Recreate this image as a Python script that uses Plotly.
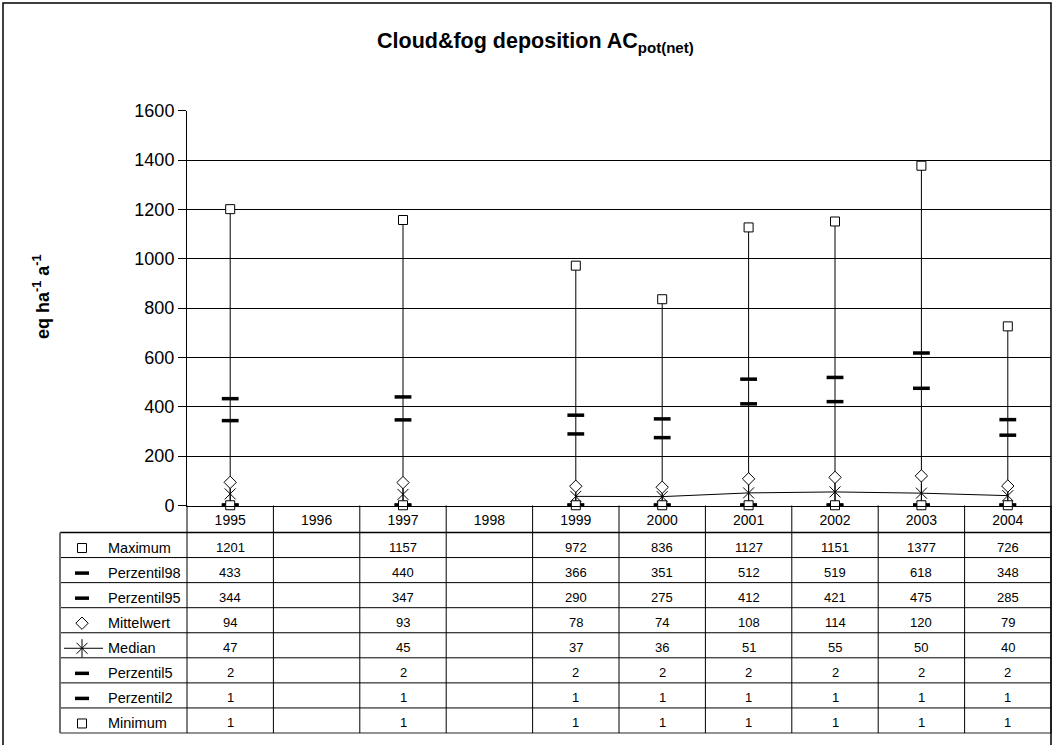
import plotly.graph_objects as go

# ---------------- data ----------------
years = ["1995", "1996", "1997", "1998", "1999", "2000", "2001", "2002", "2003", "2004"]
maximum = [1201, None, 1157, None, 972, 836, 1127, 1151, 1377, 726]
perzentil98 = [433, None, 440, None, 366, 351, 512, 519, 618, 348]
perzentil95 = [344, None, 347, None, 290, 275, 412, 421, 475, 285]
mittelwert = [94, None, 93, None, 78, 74, 108, 114, 120, 79]
median = [47, None, 45, None, 37, 36, 51, 55, 50, 40]
perzentil5 = [2, None, 2, None, 2, 2, 2, 2, 2, 2]
perzentil2 = [1, None, 1, None, 1, 1, 1, 1, 1, 1]
minimum = [1, None, 1, None, 1, 1, 1, 1, 1, 1]
series_names = ["Maximum", "Perzentil98", "Perzentil95", "Mittelwert",
                "Median", "Perzentil5", "Perzentil2", "Minimum"]
y_ticks = [0, 200, 400, 600, 800, 1000, 1200, 1400, 1600]
title_text = "Cloud&fog deposition AC<sub>pot(net)</sub>"
y_title = "eq ha<sup>-1</sup> a<sup>-1</sup>"

series_values = [maximum, perzentil98, perzentil95, mittelwert,
                 median, perzentil5, perzentil2, minimum]

# ---------------- layout geometry (pixels) ----------------
W, H = 1054, 745
X0, X1 = 187, 1051          # plot area left / right
Y_TOP, Y_BOT = 110.7, 505.5  # plot area top / bottom
T_TOP, T_BOT = 532.5, 733    # data table top / bottom
T_LEFT = 60
KEY_X, LABEL_X = 82, 106
FONT = "Liberation Sans, Arial, sans-serif"
n_rows = len(series_names)
row_h = (T_BOT - T_TOP) / n_rows
col_w = (X1 - X0) / len(years)

fig = go.Figure()

# high-low lines (min to max)
hx, hy = [], []
for yr, lo, hi in zip(years, minimum, maximum):
    if lo is not None and hi is not None:
        hx += [yr, yr, None]
        hy += [lo, hi, None]
fig.add_trace(go.Scatter(x=hx, y=hy, mode="lines", line=dict(color="black", width=1),
                         hoverinfo="skip", showlegend=False, cliponaxis=False))

# median line
fig.add_trace(go.Scatter(x=years, y=median, mode="lines", connectgaps=False,
                         line=dict(color="black", width=1), showlegend=False,
                         cliponaxis=False))

dash_marker = dict(symbol="line-ew", size=12, color="black",
                   line=dict(color="black", width=3.5))
square_marker = dict(symbol="square", size=9, color="white",
                     line=dict(color="black", width=1))
diamond_marker = dict(symbol="diamond", size=9.5, color="white",
                      line=dict(color="black", width=1))
x_marker = dict(symbol="x-thin", size=11, color="black",
                line=dict(color="black", width=1))
ns_marker = dict(symbol="line-ns", size=13, color="black",
                 line=dict(color="black", width=1))

marker_styles = {
    "Maximum": [square_marker],
    "Perzentil98": [dash_marker],
    "Perzentil95": [dash_marker],
    "Mittelwert": [diamond_marker],
    "Median": [x_marker, ns_marker],
    "Perzentil5": [dash_marker],
    "Perzentil2": [dash_marker],
    "Minimum": [square_marker],
}

draw_order = ["Perzentil2", "Perzentil5", "Median", "Mittelwert",
              "Perzentil95", "Perzentil98", "Minimum", "Maximum"]
for name in draw_order:
    vals = series_values[series_names.index(name)]
    for mk in marker_styles[name]:
        fig.add_trace(go.Scatter(x=years, y=vals, mode="markers", marker=mk,
                                 name=name, showlegend=False, cliponaxis=False))

# ---------------- data table (pixel overlay axes) ----------------
shapes = []
line_col = "#000000"
outer_col = "#6e6e6e"
# horizontal row lines
for i in range(n_rows + 1):
    yy = T_TOP + i * row_h
    outer = i in (0, n_rows)
    shapes.append(dict(type="line", xref="x2", yref="y2", x0=T_LEFT, x1=X1, y0=yy, y1=yy,
                       line=dict(color=outer_col if i == n_rows else line_col,
                                 width=1.5 if outer else 1)))
# vertical lines
shapes.append(dict(type="line", xref="x2", yref="y2", x0=T_LEFT, x1=T_LEFT, y0=T_TOP, y1=T_BOT,
                   line=dict(color=outer_col, width=2)))
for j in range(len(years) + 1):
    xx = X0 + j * col_w
    shapes.append(dict(type="line", xref="x2", yref="y2", x0=xx, x1=xx, y0=Y_BOT, y1=T_BOT,
                       line=dict(color=line_col, width=1)))
# chart frame
shapes.append(dict(type="path", xref="x2", yref="y2",
                   path="M 3 760 L 3 3 L 1051 3 L 1051 760",
                   line=dict(color="black", width=1.5)))

annotations = []
for i, (name, vals) in enumerate(zip(series_names, series_values)):
    yc = T_TOP + (i + 0.5) * row_h
    annotations.append(dict(x=LABEL_X, y=yc + 2.5, xref="x2", yref="y2", text=name,
                            showarrow=False, xanchor="left", yanchor="middle",
                            font=dict(family=FONT, size=14.5, color="black")))
    for j, v in enumerate(vals):
        if v is None:
            continue
        annotations.append(dict(x=X0 + (j + 0.5) * col_w, y=yc + 2, xref="x2", yref="y2",
                                text=str(v), showarrow=False, xanchor="center",
                                yanchor="middle",
                                font=dict(family=FONT, size=13, color="black")))
    # legend keys
    key_y = yc + 3
    if name == "Median":
        fig.add_trace(go.Scatter(x=[KEY_X - 18, KEY_X + 21], y=[key_y, key_y],
                                 xaxis="x2", yaxis="y2",
                                 mode="lines", line=dict(color="black", width=1),
                                 showlegend=False, hoverinfo="skip"))
    for mk in marker_styles[name]:
        key_mk = dict(mk)
        if mk is dash_marker:
            key_mk = dict(mk, size=10, line=dict(color="black", width=3.5))
        fig.add_trace(go.Scatter(x=[KEY_X], y=[key_y], xaxis="x2", yaxis="y2", mode="markers",
                                 marker=key_mk, showlegend=False, hoverinfo="skip"))

# title and axis title
annotations.append(dict(x=535, y=42, xref="x2", yref="y2", text="<b>" + title_text + "</b>",
                        showarrow=False, xanchor="center", yanchor="middle",
                        font=dict(family=FONT, size=21.5, color="black")))
annotations.append(dict(x=41, y=297, xref="x2", yref="y2", text="<b>" + y_title + "</b>",
                        showarrow=False, textangle=-90, xanchor="center", yanchor="middle",
                        font=dict(family=FONT, size=18, color="black")))

fig.update_layout(
    width=W, height=H,
    margin=dict(l=0, r=0, t=0, b=0, pad=0, autoexpand=False),
    paper_bgcolor="white", plot_bgcolor="rgba(0,0,0,0)",
    showlegend=False,
    xaxis=dict(domain=[X0 / W, X1 / W], type="category", categoryorder="array",
               categoryarray=years, range=[-0.5, len(years) - 0.5],
               showline=True, linecolor="black", linewidth=1, showgrid=False,
               zeroline=False, ticks="outside", ticklen=2, tickcolor="rgba(0,0,0,0)",
               tickfont=dict(family=FONT, size=14, color="black"), anchor="y",
               automargin=False),
    yaxis=dict(domain=[1 - Y_BOT / H, 1 - Y_TOP / H], range=[0, 1600],
               tickvals=y_ticks, ticktext=[str(t) for t in y_ticks],
               showline=True, linecolor="black", linewidth=1,
               showgrid=True, gridcolor="black", gridwidth=1, zeroline=False,
               ticks="outside", ticklen=8, tickcolor="black",
               tickfont=dict(family=FONT, size=18, color="black"), anchor="x",
               automargin=False),
    xaxis2=dict(domain=[0, 1], range=[0, W], visible=False, anchor="y2", fixedrange=True,
                automargin=False),
    yaxis2=dict(domain=[0, 1], range=[H, 0], visible=False, anchor="x2", fixedrange=True,
                automargin=False),
    shapes=shapes,
    annotations=annotations,
)

fig.write_html("out.html", config={"displayModeBar": False},
               post_script="document.body.style.margin='0';document.body.style.padding='0';")
